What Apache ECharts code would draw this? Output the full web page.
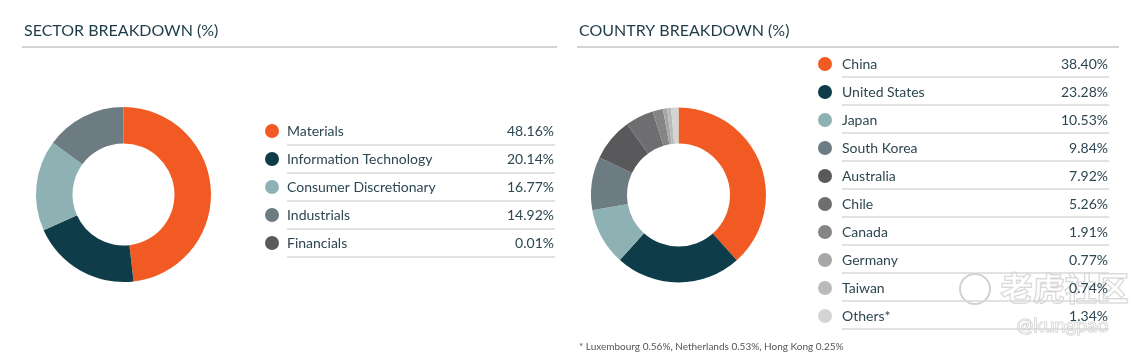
<!DOCTYPE html>
<html>
<head>
    <meta charset="utf-8" />
    <title>Breakdown</title>
    <script src="https://cdn.jsdelivr.net/npm/echarts@6/dist/echarts.min.js"></script>
    <style>
        html, body { margin: 0; padding: 0; background: #fff; }
        #main { width: 1139px; height: 354px; }
    </style>
</head>
<body>
    <div id="main"></div>
    <script type="text/javascript">
        var sectorNames = ['Materials', 'Information Technology', 'Consumer Discretionary', 'Industrials', 'Financials'];
        var sectorValues = [48.16, 20.14, 16.77, 14.92, 0.01];
        var sectorColors = ['#f15a22', '#0e3d49', '#8eb1b3', '#6d7c82', '#59595b'];

        var countryNames = ['China', 'United States', 'Japan', 'South Korea', 'Australia', 'Chile', 'Canada', 'Germany', 'Taiwan', 'Others*'];
        var countryValues = [38.40, 23.28, 10.53, 9.84, 7.92, 5.26, 1.91, 0.77, 0.74, 1.34];
        var countryColors = ['#f15a22', '#0e3d49', '#8eb1b3', '#6d7c82', '#59595b', '#6e6e70', '#858587', '#a7a7a7', '#b9bbbb', '#d3d4d4'];

        var footnote = '* Luxembourg 0.56%, Netherlands 0.53%, Hong Kong 0.25%';

        var font = 'Lato, "Open Sans", sans-serif';
        var textColor = '#2d4751';

        function toData(names, values, colors) {
            return names.map(function (n, i) {
                return { name: n, value: values[i], itemStyle: { color: colors[i] } };
            });
        }

        function fmt(v) { return v.toFixed(2) + '%'; }

        function makeLegend(names, values, left, top, pad, valWidth) {
            return {
                orient: 'vertical',
                left: left,
                top: top,
                padding: 0,
                data: names,
                icon: 'circle',
                itemWidth: 14,
                itemHeight: 14,
                itemGap: 14,
                selectedMode: false,
                formatter: function (name) {
                    var i = names.indexOf(name);
                    return '{n|' + name + '}{v|' + fmt(values[i]) + '}';
                },
                textStyle: {
                    lineHeight: 14,
                    rich: {
                        n: { width: 200, fontSize: 14, fontFamily: font, color: textColor, padding: [0, 0, 0, pad] },
                        v: { width: valWidth, align: 'right', fontSize: 14, fontFamily: font, color: textColor }
                    }
                }
            };
        }

        // separator lines under each legend row
        function rowLines(count, x1, x2, y0) {
            var out = [];
            for (var i = 0; i < count; i++) {
                out.push({
                    type: 'line',
                    shape: { x1: x1, y1: y0 + i * 28, x2: x2, y2: y0 + i * 28 },
                    style: { stroke: '#d9d9d9', lineWidth: 1.5 }
                });
            }
            return out;
        }

        var graphics = [
            { type: 'text', left: 24, top: 23, style: { text: 'SECTOR BREAKDOWN (%)', fontSize: 16, fontFamily: font, fill: '#1d3c47' } },
            { type: 'text', left: 579, top: 23, style: { text: 'COUNTRY BREAKDOWN (%)', fontSize: 16, fontFamily: font, fill: '#1d3c47' } },
            { type: 'line', shape: { x1: 22, y1: 47, x2: 557, y2: 47 }, style: { stroke: '#c6c6c6', lineWidth: 1.5 } },
            { type: 'line', shape: { x1: 577, y1: 47, x2: 1119, y2: 47 }, style: { stroke: '#c6c6c6', lineWidth: 1.5 } },
            { type: 'text', left: 579, top: 342, style: { text: footnote, fontSize: 10, fontFamily: font, fill: '#555' } },
            // watermark
            { type: 'circle', shape: { cx: 975, cy: 289, r: 15 }, style: { fill: 'none', stroke: '#d0d0d0', lineWidth: 2 } },
            { type: 'text', left: 1000, top: 271, style: { text: '老虎社区', fontSize: 32, fontFamily: '"Noto Sans CJK SC"', fontWeight: 'bold', fill: 'rgba(255,255,255,0.6)', stroke: '#cfcfcf', lineWidth: 1.5 } },
            { type: 'text', left: 1016, top: 315, style: { text: '@kungpao', fontSize: 20, fontFamily: font, fill: 'rgba(255,255,255,0.6)', stroke: '#c8c8c8', lineWidth: 1 } }
        ].concat(rowLines(sectorNames.length, 287, 555, 145))
         .concat(rowLines(countryNames.length, 842, 1109, 77));

        var chart = echarts.init(document.getElementById('main'));
        var option = {
            animation: false,
            legend: [
                makeLegend(sectorNames, sectorValues, 265, 124, 3, 67),
                makeLegend(countryNames, countryValues, 818, 57, 5, 66)
            ],
            graphic: graphics,
            series: [{
                type: 'pie',
                center: [123.5, 194.5],
                radius: [51, 87.5],
                startAngle: 90,
                clockwise: true,
                label: { show: false },
                labelLine: { show: false },
                emphasis: { disabled: true },
                itemStyle: { borderWidth: 0 },
                data: toData(sectorNames, sectorValues, sectorColors)
            }, {
                type: 'pie',
                center: [678.5, 195],
                radius: [51.5, 87.5],
                startAngle: 90,
                clockwise: true,
                label: { show: false },
                labelLine: { show: false },
                emphasis: { disabled: true },
                itemStyle: { borderWidth: 0 },
                data: toData(countryNames, countryValues, countryColors)
            }]
        };
        chart.setOption(option);
    </script>
</body>
</html>
